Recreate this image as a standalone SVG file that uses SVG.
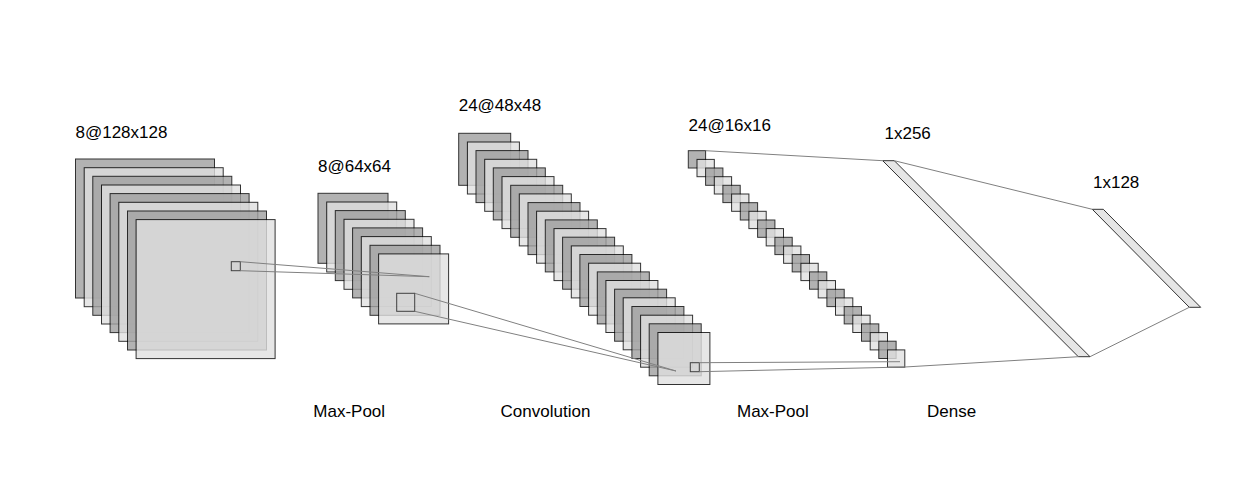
<svg xmlns="http://www.w3.org/2000/svg" width="1239" height="486" viewBox="0 0 1239 486">
<style>
.d{fill:#a0a0a0;stroke:#000;stroke-width:1;opacity:0.8}
.l{fill:#e0e0e0;stroke:#000;stroke-width:1;opacity:0.8}
.k{fill:none;stroke:#000;stroke-width:1;opacity:0.7}
.ln{stroke:#808080;stroke-width:1;fill:none}
.t{font-family:"Liberation Sans",Arial,sans-serif;font-size:17px;fill:#000}
</style>
<rect width="1239" height="486" fill="#fff"/>
<g id="layer1">
<rect class="d" x="75.5" y="159" width="139" height="139"/>
<rect class="l" x="84.2" y="167.7" width="139" height="139"/>
<rect class="d" x="92.8" y="176.3" width="139" height="139"/>
<rect class="l" x="101.5" y="185" width="139" height="139"/>
<rect class="d" x="110.1" y="193.6" width="139" height="139"/>
<rect class="l" x="118.8" y="202.3" width="139" height="139"/>
<rect class="d" x="127.5" y="211" width="139" height="139"/>
<rect class="l" x="136.1" y="219.6" width="139" height="139"/>
<rect class="k" x="231.3" y="261.7" width="9" height="9"/>
<text class="t" x="75.5" y="137.5">8@128x128</text>
</g>
<g id="layer2">
<rect class="d" x="318" y="193.3" width="70" height="70"/>
<rect class="l" x="326.7" y="202" width="70" height="70"/>
<rect class="d" x="335.3" y="210.6" width="70" height="70"/>
<rect class="l" x="344" y="219.3" width="70" height="70"/>
<rect class="d" x="352.6" y="227.9" width="70" height="70"/>
<rect class="l" x="361.3" y="236.6" width="70" height="70"/>
<rect class="d" x="370" y="245.3" width="70" height="70"/>
<rect class="l" x="378.6" y="253.9" width="70" height="70"/>
<rect class="k" x="396.7" y="293.3" width="18" height="18"/>
<text class="t" x="318" y="171.5">8@64x64</text>
</g>
<g id="layer3">
<rect class="d" x="458.7" y="133.3" width="52" height="52"/>
<rect class="l" x="467.4" y="142" width="52" height="52"/>
<rect class="d" x="476" y="150.6" width="52" height="52"/>
<rect class="l" x="484.7" y="159.3" width="52" height="52"/>
<rect class="d" x="493.3" y="167.9" width="52" height="52"/>
<rect class="l" x="502" y="176.6" width="52" height="52"/>
<rect class="d" x="510.7" y="185.3" width="52" height="52"/>
<rect class="l" x="519.3" y="193.9" width="52" height="52"/>
<rect class="d" x="528" y="202.6" width="52" height="52"/>
<rect class="l" x="536.6" y="211.2" width="52" height="52"/>
<rect class="d" x="545.3" y="219.9" width="52" height="52"/>
<rect class="l" x="554" y="228.6" width="52" height="52"/>
<rect class="d" x="562.6" y="237.2" width="52" height="52"/>
<rect class="l" x="571.3" y="245.9" width="52" height="52"/>
<rect class="d" x="579.9" y="254.5" width="52" height="52"/>
<rect class="l" x="588.6" y="263.2" width="52" height="52"/>
<rect class="d" x="597.3" y="271.9" width="52" height="52"/>
<rect class="l" x="605.9" y="280.5" width="52" height="52"/>
<rect class="d" x="614.6" y="289.2" width="52" height="52"/>
<rect class="l" x="623.2" y="297.8" width="52" height="52"/>
<rect class="d" x="631.9" y="306.5" width="52" height="52"/>
<rect class="l" x="640.6" y="315.2" width="52" height="52"/>
<rect class="d" x="649.2" y="323.8" width="52" height="52"/>
<rect class="l" x="657.9" y="332.5" width="52" height="52"/>
<rect class="k" x="690.3" y="362.7" width="9" height="9"/>
<text class="t" x="458.7" y="111.3">24@48x48</text>
</g>
<g id="layer4">
<rect class="d" x="688.3" y="150.7" width="17.3" height="17.3"/>
<rect class="l" x="697" y="159.4" width="17.3" height="17.3"/>
<rect class="d" x="705.6" y="168" width="17.3" height="17.3"/>
<rect class="l" x="714.3" y="176.7" width="17.3" height="17.3"/>
<rect class="d" x="722.9" y="185.3" width="17.3" height="17.3"/>
<rect class="l" x="731.6" y="194" width="17.3" height="17.3"/>
<rect class="d" x="740.3" y="202.7" width="17.3" height="17.3"/>
<rect class="l" x="748.9" y="211.3" width="17.3" height="17.3"/>
<rect class="d" x="757.6" y="220" width="17.3" height="17.3"/>
<rect class="l" x="766.2" y="228.6" width="17.3" height="17.3"/>
<rect class="d" x="774.9" y="237.3" width="17.3" height="17.3"/>
<rect class="l" x="783.6" y="246" width="17.3" height="17.3"/>
<rect class="d" x="792.2" y="254.6" width="17.3" height="17.3"/>
<rect class="l" x="800.9" y="263.3" width="17.3" height="17.3"/>
<rect class="d" x="809.5" y="271.9" width="17.3" height="17.3"/>
<rect class="l" x="818.2" y="280.6" width="17.3" height="17.3"/>
<rect class="d" x="826.9" y="289.3" width="17.3" height="17.3"/>
<rect class="l" x="835.5" y="297.9" width="17.3" height="17.3"/>
<rect class="d" x="844.2" y="306.6" width="17.3" height="17.3"/>
<rect class="l" x="852.8" y="315.2" width="17.3" height="17.3"/>
<rect class="d" x="861.5" y="323.9" width="17.3" height="17.3"/>
<rect class="l" x="870.2" y="332.6" width="17.3" height="17.3"/>
<rect class="d" x="878.8" y="341.2" width="17.3" height="17.3"/>
<rect class="l" x="887.5" y="349.9" width="17.3" height="17.3"/>
<text class="t" x="688.5" y="130.5">24@16x16</text>
</g>
<g id="dense1">
<polygon class="l" points="882.7,160.7 894.3,160.7 1090,356.7 1078.3,356.7"/>
<text class="t" x="884.5" y="138.5">1x256</text>
</g>
<g id="dense2">
<polygon class="l" points="1092.3,209.3 1103.3,209.3 1200.7,307.3 1189.3,307.3"/>
<text class="t" x="1093" y="187.5">1x128</text>
</g>
<g id="connectors">
<line class="ln" x1="240.3" y1="261.7" x2="429.3" y2="276.7"/>
<line class="ln" x1="240.3" y1="270.7" x2="429.3" y2="276.7"/>
<line class="ln" x1="414.7" y1="293.3" x2="676" y2="371"/>
<line class="ln" x1="414.7" y1="311.3" x2="676" y2="371"/>
<line class="ln" x1="699.3" y1="362.7" x2="900" y2="361.7"/>
<line class="ln" x1="699.3" y1="371.7" x2="904.8" y2="367"/>
<line class="ln" x1="705.6" y1="150.7" x2="882.7" y2="160.7"/>
<line class="ln" x1="904.8" y1="367" x2="1078.3" y2="356.7"/>
<line class="ln" x1="894.3" y1="160.7" x2="1092.3" y2="209.3"/>
<line class="ln" x1="1090" y1="356.7" x2="1189.3" y2="307.3"/>
</g>
<g id="labels">
<text class="t" x="313.3" y="417">Max-Pool</text>
<text class="t" x="500.6" y="417">Convolution</text>
<text class="t" x="737" y="417">Max-Pool</text>
<text class="t" x="927" y="417">Dense</text>
</g>
</svg>
